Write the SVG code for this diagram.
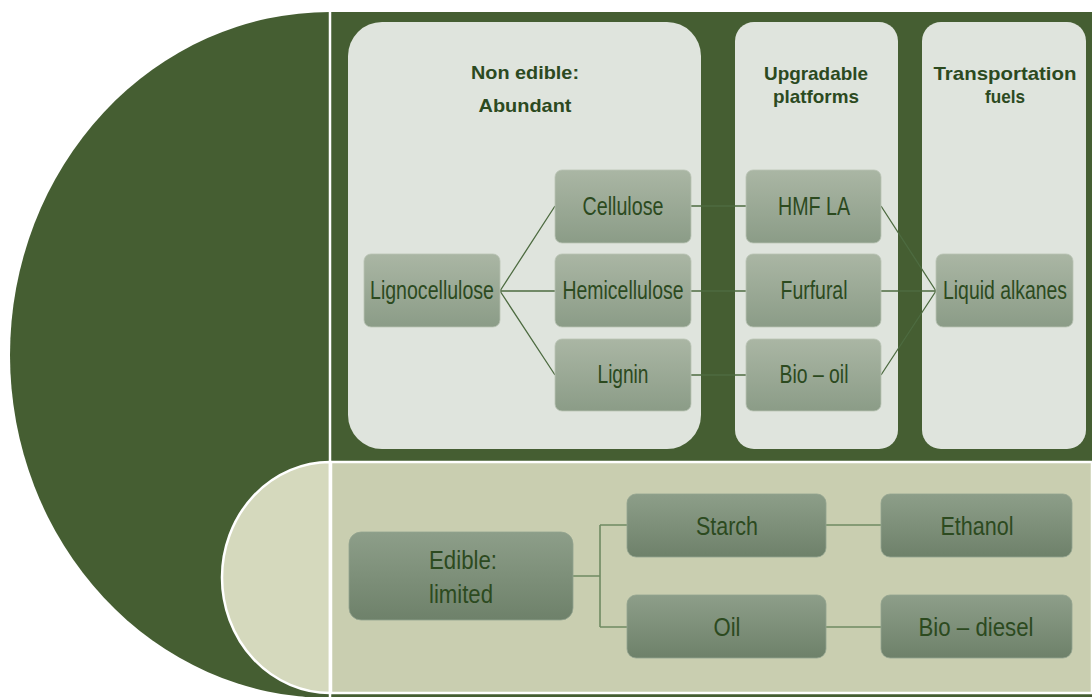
<svg xmlns="http://www.w3.org/2000/svg" width="1092" height="697" viewBox="0 0 1092 697">
  <defs>
    <linearGradient id="gTop" x1="0" y1="0" x2="0" y2="1">
      <stop offset="0" stop-color="#aab6a4"/>
      <stop offset="1" stop-color="#8b9c87"/>
    </linearGradient>
    <linearGradient id="gBot" x1="0" y1="0" x2="0" y2="1">
      <stop offset="0" stop-color="#8d9e89"/>
      <stop offset="1" stop-color="#6e816a"/>
    </linearGradient>
    <style>
      .bg{fill:#455e32}
      .panel{fill:#dfe4dd}
      .ntop{fill:url(#gTop);stroke:#b9c3b4;stroke-width:0.8}
      .nbot{fill:url(#gBot);stroke:#93a38f;stroke-width:0.8}
      .t{font-family:"Liberation Sans",Arial,sans-serif;font-size:25px;fill:#2c4a1f;text-anchor:middle}
      .h{font-family:"Liberation Sans",Arial,sans-serif;font-size:19px;font-weight:bold;fill:#2c4a1f;text-anchor:middle}
      .c1{stroke:#4d6b40;stroke-width:1.3;fill:none}
      .c2{stroke:#6f8a62;stroke-width:1.6;fill:none}
    </style>
  </defs>

  <g id="background">
    <ellipse cx="330" cy="355" rx="320" ry="343" class="bg"/>
    <rect x="331" y="12" width="761" height="685" class="bg"/>
    <rect x="331" y="462" width="761" height="231" fill="#c9ceb0" stroke="#ffffff" stroke-width="2.5"/>
    <path d="M330,462 A108,115.5 0 0 0 330,693 Z" fill="#d5d9bd" stroke="#ffffff" stroke-width="2.5"/>
    <line x1="330" y1="12" x2="330" y2="697" stroke="#ffffff" stroke-width="2.5"/>
  </g>

  <g id="panel-nonedible">
    <rect x="348" y="22" width="353" height="427" rx="34" ry="34" class="panel"/>
    <text class="h" x="525" y="79" textLength="108" lengthAdjust="spacingAndGlyphs">Non edible:</text>
    <text class="h" x="525" y="112" textLength="93" lengthAdjust="spacingAndGlyphs">Abundant</text>
  </g>
  <g id="panel-platforms">
    <rect x="735" y="22" width="163" height="427" rx="19" ry="19" class="panel"/>
    <text class="h" x="816" y="80" textLength="104" lengthAdjust="spacingAndGlyphs">Upgradable</text>
    <text class="h" x="816" y="103" textLength="86" lengthAdjust="spacingAndGlyphs">platforms</text>
  </g>
  <g id="panel-fuels">
    <rect x="922" y="22" width="164" height="427" rx="19" ry="19" class="panel"/>
    <text class="h" x="1005" y="80" textLength="143" lengthAdjust="spacingAndGlyphs">Transportation</text>
    <text class="h" x="1005" y="103" textLength="40" lengthAdjust="spacingAndGlyphs">fuels</text>
  </g>

  <g id="connectors">
    <path class="c1" d="M500,291 L555,206 M500,291 L555,291 M500,291 L555,375"/>
    <path class="c1" d="M691,206 L746,206 M691,291 L746,291 M691,375 L746,375"/>
    <path class="c1" d="M881,206 L936,291 M881,291 L936,291 M881,375 L936,291"/>
    <path class="c2" d="M573,576 L600,576 M600,525 L600,627 M600,525 L627,525 M600,627 L627,627"/>
    <path class="c2" d="M826,525 L881,525 M826,627 L881,627"/>
  </g>

  <g id="lignocellulose">
    <rect x="364" y="254" width="136" height="73" rx="7" class="ntop"/>
    <text class="t" x="432" y="299" textLength="124" lengthAdjust="spacingAndGlyphs">Lignocellulose</text>
  </g>
  <g id="cellulose">
    <rect x="555" y="170" width="136" height="73" rx="7" class="ntop"/>
    <text class="t" x="623" y="215" textLength="81" lengthAdjust="spacingAndGlyphs">Cellulose</text>
  </g>
  <g id="hemicellulose">
    <rect x="555" y="254" width="136" height="73" rx="7" class="ntop"/>
    <text class="t" x="623" y="299" textLength="121" lengthAdjust="spacingAndGlyphs">Hemicellulose</text>
  </g>
  <g id="lignin">
    <rect x="555" y="339" width="136" height="72" rx="7" class="ntop"/>
    <text class="t" x="623" y="383" textLength="51" lengthAdjust="spacingAndGlyphs">Lignin</text>
  </g>
  <g id="hmf-la">
    <rect x="746" y="170" width="135" height="73" rx="7" class="ntop"/>
    <text class="t" x="814" y="215" textLength="72" lengthAdjust="spacingAndGlyphs">HMF LA</text>
  </g>
  <g id="furfural">
    <rect x="746" y="254" width="135" height="73" rx="7" class="ntop"/>
    <text class="t" x="814" y="299" textLength="67" lengthAdjust="spacingAndGlyphs">Furfural</text>
  </g>
  <g id="bio-oil">
    <rect x="746" y="339" width="135" height="72" rx="7" class="ntop"/>
    <text class="t" x="814" y="383" textLength="69" lengthAdjust="spacingAndGlyphs">Bio – oil</text>
  </g>
  <g id="liquid-alkanes">
    <rect x="936" y="254" width="137" height="73" rx="7" class="ntop"/>
    <text class="t" x="1005" y="299" textLength="124" lengthAdjust="spacingAndGlyphs">Liquid alkanes</text>
  </g>

  <g id="edible">
    <rect x="349" y="532" width="224" height="88" rx="12" class="nbot"/>
    <text class="t" x="463" y="569" font-size="27" textLength="68" lengthAdjust="spacingAndGlyphs">Edible:</text>
    <text class="t" x="461" y="603" font-size="27" textLength="64" lengthAdjust="spacingAndGlyphs">limited</text>
  </g>
  <g id="starch">
    <rect x="627" y="494" width="199" height="63" rx="9" class="nbot"/>
    <text class="t" x="727" y="535" font-size="27" textLength="62" lengthAdjust="spacingAndGlyphs">Starch</text>
  </g>
  <g id="ethanol">
    <rect x="881" y="494" width="191" height="63" rx="9" class="nbot"/>
    <text class="t" x="977" y="535" font-size="27" textLength="73" lengthAdjust="spacingAndGlyphs">Ethanol</text>
  </g>
  <g id="oil">
    <rect x="627" y="595" width="199" height="63" rx="9" class="nbot"/>
    <text class="t" x="727" y="636" font-size="27" textLength="27" lengthAdjust="spacingAndGlyphs">Oil</text>
  </g>
  <g id="bio-diesel">
    <rect x="881" y="595" width="191" height="63" rx="9" class="nbot"/>
    <text class="t" x="976" y="636" font-size="27" textLength="115" lengthAdjust="spacingAndGlyphs">Bio – diesel</text>
  </g>
</svg>
